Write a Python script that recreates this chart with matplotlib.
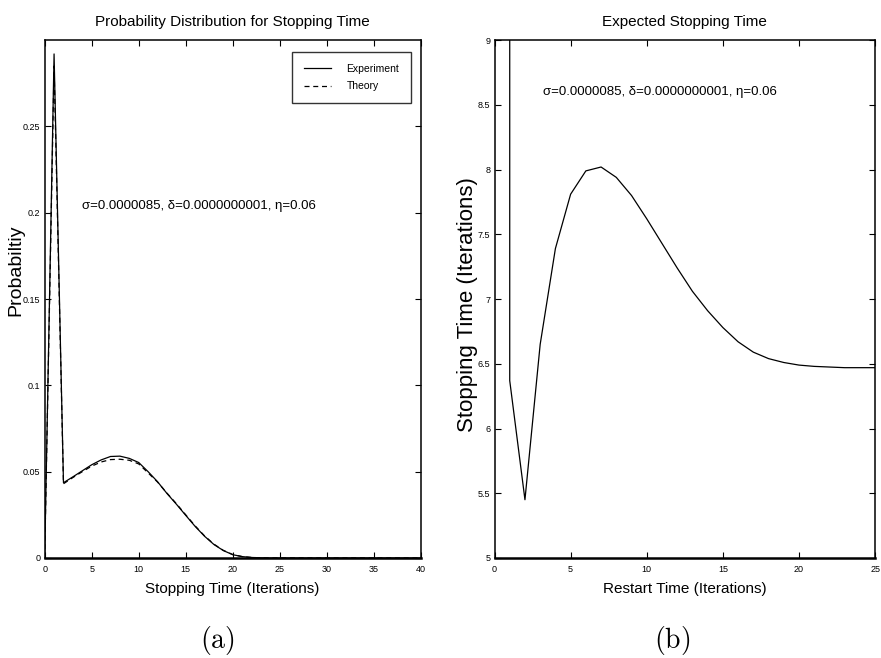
import matplotlib

matplotlib.use("Agg")

import matplotlib.pyplot as plt
from matplotlib import font_manager

# Narrow face for the MATLAB-style labels, if the system has one.
_names = {f.name for f in font_manager.fontManager.ttflist}
HAS_NARROW = "Liberation Sans Narrow" in _names
NARROW = "Liberation Sans Narrow" if HAS_NARROW else "Liberation Sans"
WIDE = "Liberation Sans"
# narrow face is ~0.82x as wide, so it can be set a little larger
NS = 1.2 if HAS_NARROW else 1.0
plt.rcParams["mathtext.fontset"] = "cm"

# ---------------------------------------------------------------------------
# Data
# ---------------------------------------------------------------------------
stop_time = list(range(0, 41))
prob_experiment = [0.0, 0.292, 0.0436, 0.047, 0.0505, 0.054, 0.0568, 0.0588,
                   0.0590, 0.0577, 0.0553, 0.0500, 0.0442, 0.0374, 0.0312,
                   0.0247, 0.0183, 0.0126, 0.0078, 0.0043, 0.0019, 0.0008,
                   0.0003, 0.0001] + [0.0] * 17
prob_theory = [0.0, 0.285, 0.0430, 0.0466, 0.0500, 0.0532, 0.0556, 0.0570,
               0.0572, 0.0566, 0.0545, 0.0493, 0.0440, 0.0376, 0.0315,
               0.0250, 0.0186, 0.0128, 0.0080, 0.0044, 0.0020, 0.0008,
               0.0003, 0.0001] + [0.0] * 17

restart_time = [1, 1, 2, 3, 4, 5, 6, 7, 8, 9, 10, 11, 12, 13, 14, 15, 16,
                17, 18, 19, 20, 21, 22, 23, 24, 25]
expected_stop = [20.0, 6.37, 5.45, 6.65, 7.39, 7.81, 7.99, 8.02, 7.94, 7.80,
                 7.62, 7.43, 7.24, 7.06, 6.91, 6.78, 6.67, 6.59, 6.54, 6.51,
                 6.49, 6.48, 6.475, 6.47, 6.47, 6.47]

params_text = "σ=0.0000085, δ=0.0000000001, η=0.06"

prob_xticks = [0, 5, 10, 15, 20, 25, 30, 35, 40]
prob_yticks = [0, 0.05, 0.1, 0.15, 0.2, 0.25]
prob_ylabels = ["0", "0.05", "0.1", "0.15", "0.2", "0.25"]
rest_xticks = [0, 5, 10, 15, 20, 25]
rest_yticks = [5, 5.5, 6, 6.5, 7, 7.5, 8, 8.5, 9]
rest_ylabels = ["5", "5.5", "6", "6.5", "7", "7.5", "8", "8.5", "9"]


def _matlab_axes(ax):
    ax.tick_params(direction="in", top=True, right=True, length=4, width=0.8,
                   labelsize=6.5 * NS)
    ax.tick_params(axis="x", pad=5)
    ax.tick_params(axis="y", pad=3)
    for lab in ax.get_xticklabels() + ax.get_yticklabels():
        lab.set_family(NARROW)
    for sp in ax.spines.values():
        sp.set_linewidth(1.1)
    ax.spines["bottom"].set_linewidth(1.8)


fig = plt.figure(figsize=(8.81, 6.58), dpi=100)

# ---------------------------------------------------------------------------
# (a) probability distribution
# ---------------------------------------------------------------------------
ax1 = fig.add_axes([0.0507, 0.152, 0.427, 0.787])
ax1.plot(stop_time, prob_experiment, color="black", lw=0.9, label="Experiment")
ax1.plot(stop_time, prob_theory, color="black", lw=0.9, ls=(0, (4, 3)),
         label="Theory")
ax1.set_xlim(0, 40)
ax1.set_ylim(0, 0.3)
ax1.set_xticks(prob_xticks, labels=[str(v) for v in prob_xticks])
ax1.set_yticks(prob_yticks, labels=prob_ylabels)
_matlab_axes(ax1)
ax1.set_title("Probability Distribution for Stopping Time", family=NARROW,
              fontsize=11 * NS, pad=10)
ax1.set_xlabel("Stopping Time (Iterations)", family=NARROW, fontsize=11 * NS,
               va="top")
ax1.xaxis.set_label_coords(0.499, -0.046)
ax1.set_ylabel("Probabiltiy", family=WIDE, fontsize=14, va="center")
ax1.yaxis.set_label_coords(-0.076, 0.556)
ax1.text(4.0, 0.204, params_text, family=NARROW, fontsize=9.5 * NS, va="center")
leg = ax1.legend(loc="upper right", bbox_to_anchor=(0.973, 0.977),
                 borderaxespad=0, prop={"family": NARROW, "size": 7.5 * NS},
                 fancybox=False, edgecolor="black", handlelength=2.6,
                 handletextpad=1.5, borderpad=1.1, labelspacing=0.75)
leg.get_frame().set_linewidth(1.0)

# ---------------------------------------------------------------------------
# (b) expected stopping time vs restart time
# ---------------------------------------------------------------------------
ax2 = fig.add_axes([0.5613, 0.152, 0.432, 0.787])
ax2.plot(restart_time, expected_stop, color="black", lw=0.9)
ax2.set_xlim(0, 25)
ax2.set_ylim(5, 9)
ax2.set_xticks(rest_xticks, labels=[str(v) for v in rest_xticks])
ax2.set_yticks(rest_yticks, labels=rest_ylabels)
_matlab_axes(ax2)
ax2.set_title("Expected Stopping Time", family=NARROW, fontsize=11 * NS, pad=10)
ax2.set_xlabel("Restart Time (Iterations)", family=NARROW, fontsize=11 * NS,
               va="top")
ax2.xaxis.set_label_coords(0.499, -0.046)
ax2.set_ylabel("Stopping Time (Iterations)", family=WIDE, fontsize=16,
               va="center")
ax2.yaxis.set_label_coords(-0.07, 0.49)
ax2.text(3.2, 8.6, params_text, family=NARROW, fontsize=9.5 * NS, va="center")

fig.text(0.2463, 0.027, r"$\mathrm{(a)}$", ha="center", va="center", fontsize=20)
fig.text(0.7628, 0.027, r"$\mathrm{(b)}$", ha="center", va="center", fontsize=20)

fig.savefig("out.png", dpi=100)
